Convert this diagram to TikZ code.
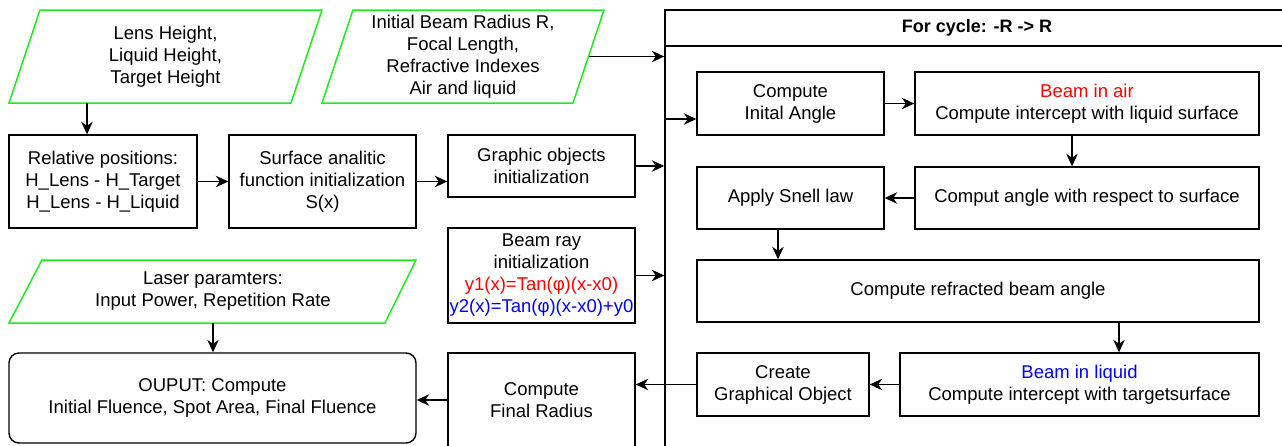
\documentclass[tikz,border=0pt]{standalone}
\usepackage{fontspec}
\setmainfont{Liberation Sans}
\usetikzlibrary{arrows.meta}
\definecolor{pgreen}{RGB}{30,235,30}
\definecolor{tred}{RGB}{255,0,0}
\definecolor{tblue}{RGB}{0,0,255}
\tikzset{
  every node/.style={font=\fontsize{18.5}{22}\selectfont, align=center, inner sep=0pt},
  stepbox/.style={draw=black, line width=1.4pt, rectangle},
  txtbox/.style={draw=none, rectangle},
  paraline/.style={draw=pgreen, line width=1.5pt, line join=miter},
  arr/.style={line width=1.4pt, -{Stealth[length=12.5pt,width=11.5pt,inset=4pt]}},
}
\begin{document}
\begin{tikzpicture}[x=1pt,y=-1pt]
\useasboundingbox (0,0) rectangle (1282,445);
\clip (0,0) rectangle (1282,445);
% input parallelograms
\draw[paraline] (40,10) -- (322,10) -- (291,103) -- (9,103) -- cycle;
\node[txtbox, minimum width=282pt, minimum height=93pt] (p1) at (165.5,56.5) {Lens Height,\\Liquid Height,\\Target Height};
\draw[paraline] (353,10) -- (604,10) -- (573,103) -- (322,103) -- cycle;
\node[txtbox, minimum width=251pt, minimum height=93pt] (p2) at (463,56.5) {Initial Beam Radius R,\\Focal Length,\\Refractive Indexes\\Air and liquid};
\draw[paraline] (42,260) -- (416,260) -- (385,323) -- (9,323) -- cycle;
\node[txtbox, minimum width=375pt, minimum height=63pt] (p3) at (213,291.5) {Laser paramters:\\Input Power, Repetition Rate};
% left column boxes
\node[stepbox, minimum width=188pt, minimum height=93pt] (rel) at (103,181.5) {Relative positions:\\H\_Lens - H\_Target\\H\_Lens - H\_Liquid};
\node[stepbox, minimum width=187pt, minimum height=93pt] (surf) at (322.5,181.5) {Surface analitic\\function initialization\\S(x)};
\node[stepbox, minimum width=187pt, minimum height=62pt] (gobj) at (541.5,166) {Graphic objects\\initialization};
\node[stepbox, minimum width=187pt, minimum height=95pt] (ray) at (541.5,275.5) {Beam ray\\initialization\\\textcolor{tred}{y1(x)=Tan(φ)(x-x0)}\\\textcolor{tblue}{y2(x)=Tan(φ)(x-x0)+y0}};
\node[stepbox, rounded corners=10pt, minimum width=407pt, minimum height=90pt] (out) at (212.5,398) {OUPUT: Compute\\Initial Fluence, Spot Area, Final Fluence};
\node[stepbox, minimum width=187pt, minimum height=94pt] (fin) at (541.5,400) {Compute\\Final Radius};
% loop container
\node[stepbox, minimum width=624pt, minimum height=36pt, font=\bfseries\fontsize{18}{22}\selectfont] (hdr) at (977,28) {For cycle: -R -> R};
\node[stepbox, minimum width=624pt, minimum height=414pt] (big) at (977,253) {};
% inner boxes
\node[stepbox, minimum width=187pt, minimum height=63pt] (cia) at (790.5,103.5) {Compute\\Inital Angle};
\node[stepbox, minimum width=344pt, minimum height=63pt] (bia) at (1087,103.5) {\textcolor{tred}{Beam in air}\\Compute intercept with liquid surface};
\node[stepbox, minimum width=187pt, minimum height=62pt] (snell) at (790.5,198) {Apply Snell law};
\node[stepbox, minimum width=344pt, minimum height=62pt] (cang) at (1087,198) {Comput angle with respect to surface};
\node[stepbox, minimum width=562pt, minimum height=62pt] (refr) at (978,291) {Compute refracted beam angle};
\node[stepbox, minimum width=172pt, minimum height=63pt] (create) at (783,384.5) {Create\\Graphical Object};
\node[stepbox, minimum width=359pt, minimum height=63pt] (bil) at (1079.5,384.5) {\textcolor{tblue}{Beam in liquid}\\Compute intercept with targetsurface};
% connectors
\draw[arr] ([xshift=-78.5pt]p1.south) -- ([xshift=-78.5pt]p1.south |- rel.north);
\draw[arr] (rel.east) -- (surf.west);
\draw[arr] (surf.east) -- (surf.east -| gobj.west);
\draw[arr] (p2.east) -- (p2.east -| big.west);
\draw[arr] (gobj.east) -- (gobj.east -| big.west);
\draw[arr] (ray.east) -- (ray.east -| big.west);
\draw[arr] (p3.south) -- (p3.south |- out.north);
\draw[arr] (fin.west) -- (fin.west -| out.east);
\draw[arr] ([yshift=-15.5pt]cia.west -| big.west) -- ([yshift=-15.5pt]cia.west);
\draw[arr] (cia.east) -- (bia.west);
\draw[arr] ([xshift=-15pt]bia.south) -- ([xshift=-15pt]bia.south |- cang.north);
\draw[arr] (cang.west) -- (snell.east);
\draw[arr] ([xshift=-12.5pt]snell.south) -- ([xshift=-12.5pt]snell.south |- refr.north);
\draw[arr] ([xshift=141pt]refr.south) -- ([xshift=141pt]refr.south |- bil.north);
\draw[arr] (bil.west) -- (create.east);
\draw[arr] (create.west) -- (create.west -| fin.east);
\end{tikzpicture}
\end{document}
